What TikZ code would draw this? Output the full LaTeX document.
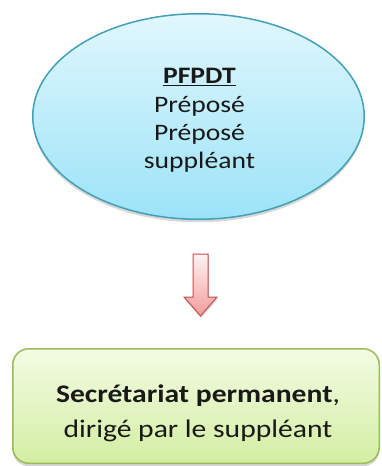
\documentclass[tikz,border=0pt]{standalone}
\usepackage{fontspec}
\setmainfont{Carlito}[FakeStretch=1.17]
\usetikzlibrary{shapes.geometric,shadows,calc}
\definecolor{elltop}{HTML}{E0F7FD}
\definecolor{ellbot}{HTML}{9CE3F8}
\definecolor{ellline}{HTML}{459FB6}
\definecolor{boxtop}{HTML}{F3FBE4}
\definecolor{boxbot}{HTML}{D3EEA2}
\definecolor{boxline}{HTML}{9BBB59}
\definecolor{arrtop}{HTML}{FFF3F3}
\definecolor{arrbot}{HTML}{F39C9C}
\definecolor{arrline}{HTML}{C0504D}
\tikzset{
  softshadow/.style={drop shadow={shadow xshift=0pt, shadow yshift=-3pt, opacity=0.22, fill=black!70}},
  ellstyle/.style={ellipse, draw=ellline, line width=1.5pt, top color=elltop, bottom color=ellbot,
    minimum width=331.5pt, minimum height=205.5pt, inner sep=0pt, softshadow},
  boxstyle/.style={rectangle, rounded corners=16pt, draw=boxline, line width=1.5pt, top color=boxtop, bottom color=boxbot,
    minimum width=366.5pt, minimum height=114.5pt, inner sep=0pt, softshadow},
  arrstyle/.style={draw=arrline, line width=1pt, top color=arrtop, bottom color=arrbot, line join=miter,
    drop shadow={shadow xshift=1pt, shadow yshift=-2pt, opacity=0.2, fill=black!70}},
  elltext/.style={align=center, inner sep=0pt, text=black!90, font=\fontsize{23.6}{28.3}\selectfont},
  boxtext/.style={align=center, inner sep=0pt, text=black!90, font=\fontsize{25.3}{34.5}\selectfont}
}
\begin{document}
\begin{tikzpicture}[x=1pt,y=-1pt]
\useasboundingbox[fill=white] (0,0) rectangle (382,466);
\node[ellstyle] (e) at (198.5,116.5) {};
\node[elltext] (et) at (199.5,120.5) {\textbf{\underline{PFPDT}}\\Préposé\\Préposé\\suppléant};
\node[boxstyle] (b) at (196,406) {};
\node[boxtext] (bt) at (198,413.5) {\textbf{Secrétariat permanent},\\dirigé par le suppléant};
\coordinate (at) at (200.5,254);
\draw[arrstyle] (at) +(-7.5,0) -- +(7.5,0) -- +(7.5,43) -- +(16.5,43) -- +(0,62) -- +(-16.5,43) -- +(-7.5,43) -- cycle;
\end{tikzpicture}
\end{document}
